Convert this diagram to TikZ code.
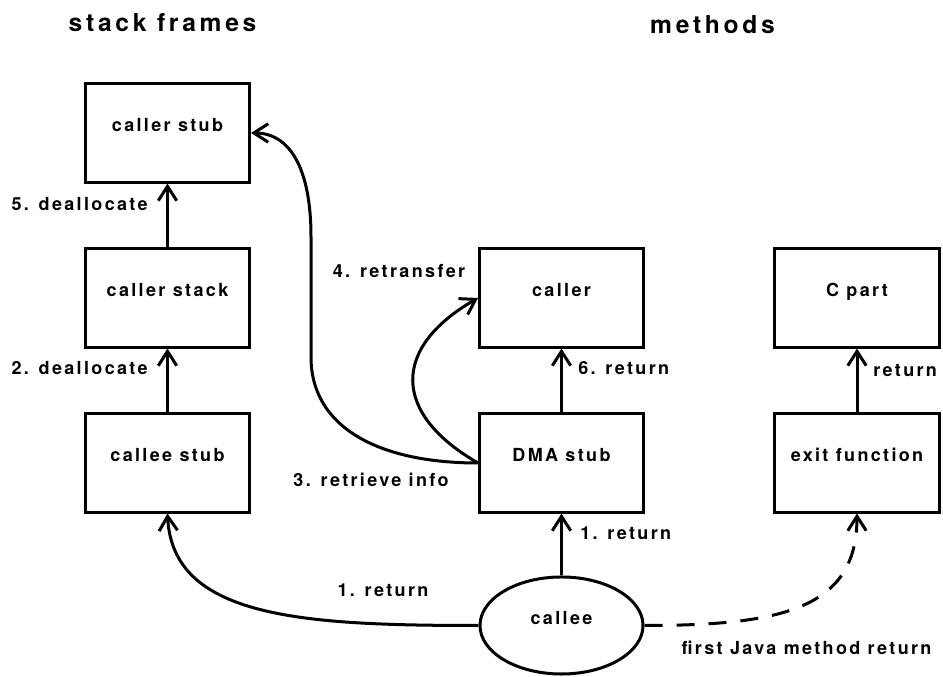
\documentclass[tikz,border=0pt]{standalone}
\usepackage{fontspec}
\setmainfont{TeX Gyre Heros}[LetterSpace=13]
\newfontfamily\headfont{TeX Gyre Heros}[LetterSpace=15]
\usetikzlibrary{arrows.meta,shapes.geometric}

\begin{document}
\begin{tikzpicture}[x=0.025cm,y=0.025cm,
	font=\bfseries\fontsize{12.8}{15}\selectfont,
	box/.style={draw,line width=0.075cm,minimum width=4.1cm,minimum height=2.45cm,inner sep=0pt,text height=0.3cm,text depth=0.35cm},
	oval/.style={ellipse,draw,line width=0.075cm,minimum width=4.075cm,minimum height=2.425cm,inner sep=0pt,text height=0.3cm,text depth=0.35cm},
	lbl/.style={inner sep=0pt},
	title/.style={inner sep=0pt,anchor=base,font=\headfont\bfseries\fontsize{17.5}{21}\selectfont},
	conn/.style={line width=0.075cm,-{Straight Barb[length=0.36cm,width=0.46cm]}}]
	\useasboundingbox (0,0) rectangle (943,677);

	% headings
	\node[title] (hstack) at (162.5,645) {stack frames};
	\node[title] (hmeth) at (712.5,643) {methods};

	% stack frames
	\node[box] (callerstub) at (167.5,544) {caller stub};
	\node[box] (callerstack) at (167.5,379) {caller stack};
	\node[box] (calleestub) at (167.5,214) {callee stub};

	% methods
	\node[box] (caller) at (561.5,379) {caller};
	\node[box] (dmastub) at (561.5,214) {DMA stub};
	\node[box] (cpart) at (857,379) {C part};
	\node[box] (exitfn) at (857,214) {exit function};
	\node[oval] (callee) at (561.5,51.5) {callee};

	% labels
	\node[lbl,anchor=base east] (ldealloc5) at (148,466) {5. deallocate};
	\node[lbl,anchor=base east] (ldealloc2) at (148,302) {2. deallocate};
	\node[lbl,anchor=base west] (lreturn6) at (578,302) {6. return};
	\node[lbl,anchor=base west] (lreturnc) at (873,300) {return};
	\node[lbl,anchor=base west] (lreturn1) at (580,137) {1. return};
	\node[lbl,anchor=base] (lreturn1b) at (383,80) {1. return};
	\node[lbl,anchor=base] (lretrieve) at (371,190) {3. retrieve info};
	\node[lbl,anchor=base] (lretransfer) at (399,399) {4. retransfer};
	\node[lbl,anchor=base] (ljava) at (806.5,22) {first Java method return};

	% connectors
	\draw[conn] (callerstack) -- (callerstub);
	\draw[conn] (calleestub) -- (callerstack);
	\draw[conn] (dmastub) -- (caller);
	\draw[conn] (exitfn) -- (cpart);
	\draw[conn] (callee) -- (dmastub);
	\draw[conn] (callee.west) .. controls +(-178,0) and +(5,-104) .. (calleestub.south);
	\draw[conn] (dmastub.west) .. controls +(-100,0) and +(0,-70) .. (311,320) -- (311,440) .. controls +(0,70) and +(38,0) .. (callerstub.east);
	\draw[conn] (dmastub.west) to[out=150,in=210,looseness=1.55] (caller.west);
	\draw[conn,dash pattern=on 0.45cm off 0.35cm] (callee.east) .. controls +(138,0) and +(0,-95) .. (exitfn.south);
\end{tikzpicture}
\end{document}
